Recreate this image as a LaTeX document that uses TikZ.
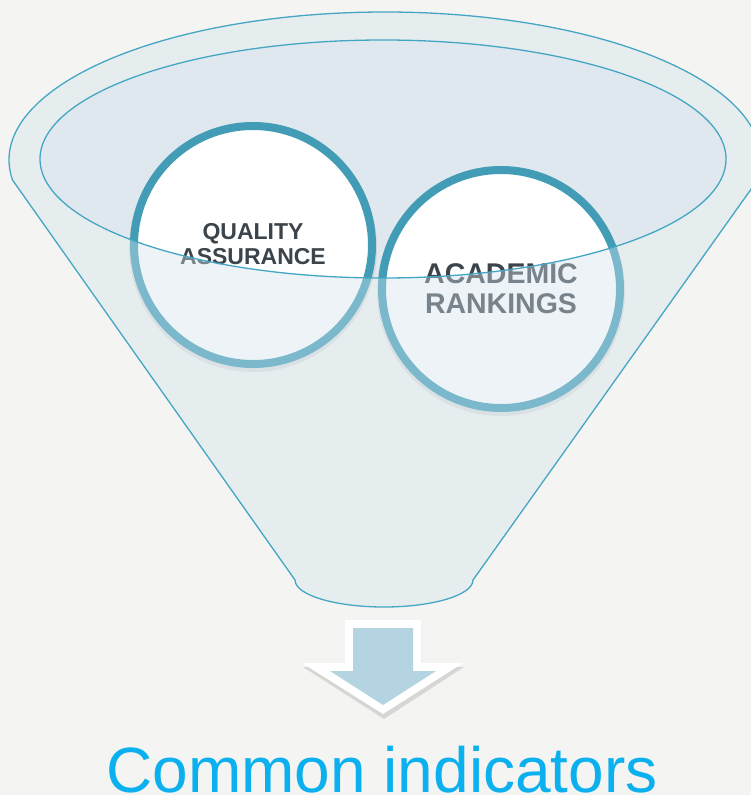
\documentclass[tikz,border=0pt]{standalone}
\usepackage{fontspec}
\setmainfont{Liberation Sans}
\begin{document}
\begin{tikzpicture}[x=1pt,y=-1pt,
  rimline/.style={draw=funnelline, line width=1.3pt},
  ballstyle/.style={circle, draw=ballline, fill=white, line width=8pt, minimum size=238pt, inner sep=0pt},
  balltext/.style={text=darktext, font=\bfseries, anchor=base, inner sep=0pt},
]
\definecolor{bg}{HTML}{F4F4F2}
\definecolor{funnelline}{HTML}{45A6C4}
\definecolor{funnelin}{HTML}{DFE8EE}
\definecolor{frontwall}{RGB}{211,227,236}
\definecolor{ballline}{HTML}{429CB6}
\definecolor{darktext}{HTML}{3C444B}
\definecolor{arrowblue}{HTML}{B3D4E0}
\definecolor{cyantext}{HTML}{0BB0EE}
\useasboundingbox (0,0) rectangle (751,795);
\fill[bg] (0,0) rectangle (751,795);
% funnel back interior
\fill[funnelin] (383,159) ellipse [x radius=343pt, y radius=119pt];
% circle shadows
\fill[black, opacity=0.08] (253,248) circle [radius=124pt];
\fill[black, opacity=0.08] (501,292) circle [radius=124pt];
% balls
\node[ballstyle] (qa) at (253,245) {};
\node[ballstyle] (ar) at (501,289) {};
\node[balltext, font=\bfseries\fontsize{23}{25}\selectfont] (qa1) at (253,239) {QUALITY};
\node[balltext, font=\bfseries\fontsize{23}{25}\selectfont] (qa2) at (253,264) {ASSURANCE};
\node[balltext, font=\bfseries\fontsize{28.5}{30}\selectfont] (ar1) at (501,283) {ACADEMIC};
\node[balltext, font=\bfseries\fontsize{28.5}{30}\selectfont] (ar2) at (501,313) {RANKINGS};
% front wall (semi-transparent)
\fill[frontwall, fill opacity=0.4, even odd rule]
  (12.5,180) arc[start angle=187.77, end angle=-7.77, x radius=376pt, y radius=148pt]
  -- (473,580) arc[start angle=0, end angle=-180, x radius=89pt, y radius=27pt] -- cycle
  (383,159) ellipse [x radius=343pt, y radius=119pt];
% funnel outlines
\draw[rimline, line join=round]
  (12.5,180) arc[start angle=187.77, end angle=-7.77, x radius=376pt, y radius=148pt]
  -- (473,580) arc[start angle=0, end angle=-180, x radius=89pt, y radius=27pt] -- cycle;
\draw[rimline] (383,159) ellipse [x radius=343pt, y radius=119pt];
% arrow
\fill[black, opacity=0.12] (346,624) -- (421,624) -- (421,667) -- (464,667) -- (384,719) -- (303,667) -- (346,667) -- cycle;
\fill[white] (345,620) -- (421,620) -- (421,663) -- (463,663) -- (383,714) -- (302,663) -- (345,663) -- cycle;
\fill[arrowblue] (353,628) -- (413,628) -- (413,671) -- (436,671) -- (383,705) -- (330,671) -- (353,671) -- cycle;
% caption
\node[text=cyantext, font=\fontsize{64}{70}\selectfont, anchor=base, inner sep=0pt] (cap) at (382,792) {Common indicators};
\end{tikzpicture}
\end{document}
